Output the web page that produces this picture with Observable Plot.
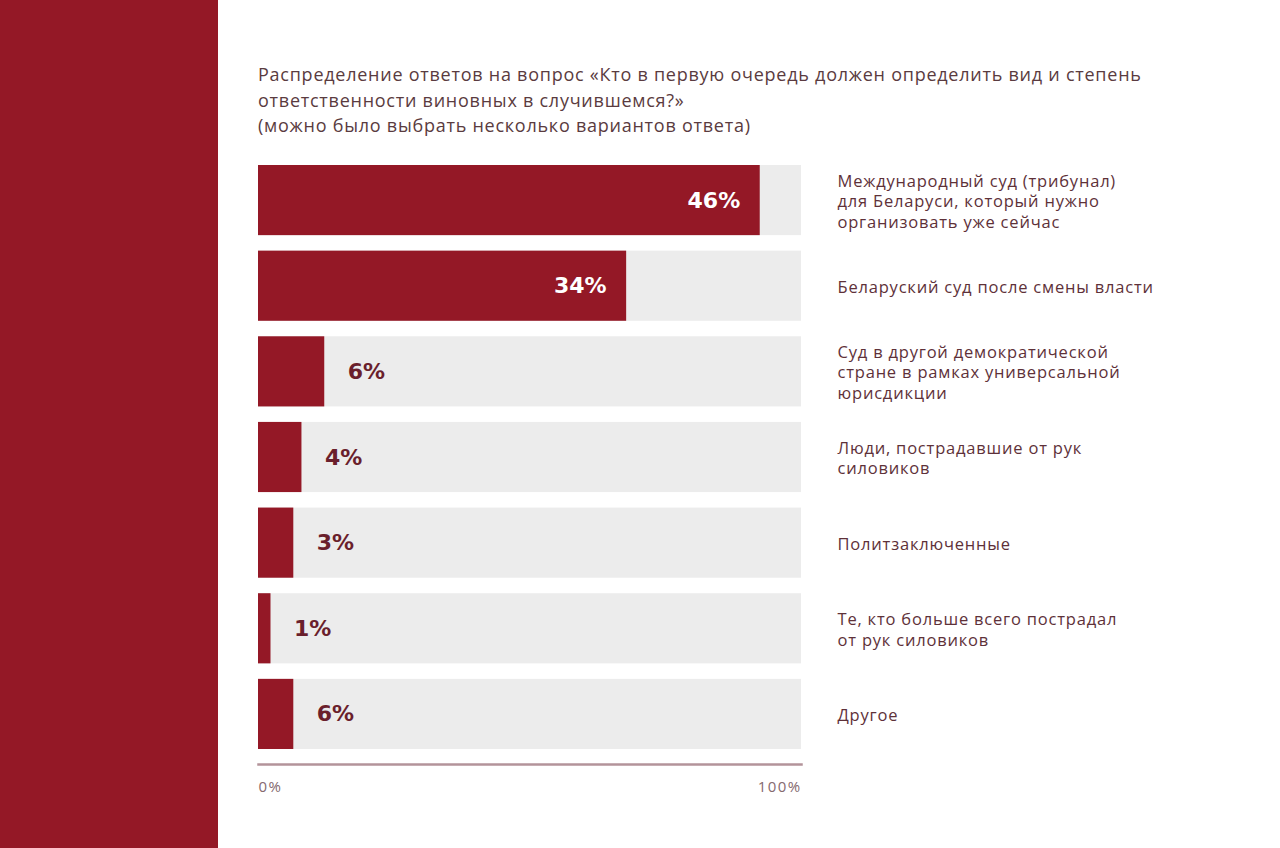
<!DOCTYPE html>
<html>
<head>
<meta charset="utf-8">
<script src="https://cdn.jsdelivr.net/npm/d3@7"></script>
<script src="https://cdn.jsdelivr.net/npm/@observablehq/plot@0.6"></script>
<style>
  html, body { margin: 0; padding: 0; background: #fff; }
  body { width: 1280px; height: 848px; position: relative; overflow: hidden; font-family: "Open Sans", sans-serif; }
  #panel { position: absolute; left: 0; top: 0; width: 218px; height: 848px; background: #941826; }
  #title { position: absolute; left: 258px; top: 62px; font-size: 18px; letter-spacing: 0.75px; line-height: 25.5px; color: #5a3b40; white-space: nowrap; }
  #chart { position: absolute; left: 218px; top: 148px; }
  #chart g[font-size="16.5"] { letter-spacing: 0.8px; }
  #chart g[font-size="15"] { letter-spacing: 1.4px; }
</style>
</head>
<body>
<div id="panel"></div>
<div id="title">Распределение ответов на вопрос «Кто в первую очередь должен определить вид и степень<br>ответственности виновных в случившемся?»<br>(можно было выбрать несколько вариантов ответа)</div>
<div id="chart"></div>
<script>
// Answer categories (top to bottom)
const categories = [
  "Международный суд (трибунал)\nдля Беларуси, который нужно\nорганизовать уже сейчас",
  "Беларуский суд после смены власти",
  "Суд в другой демократической\nстране в рамках универсальной\nюрисдикции",
  "Люди, пострадавшие от рук\nсиловиков",
  "Политзаключенные",
  "Те, кто больше всего пострадал\nот рук силовиков",
  "Другое"
];
// Printed value labels
const valueLabels = ["46%", "34%", "6%", "4%", "3%", "1%", "6%"];
// Bar lengths as drawn against the 0%–100% axis
const barShares = [92.4, 67.8, 12.2, 8.0, 6.5, 2.3, 6.5];
// Axis tick labels
const axisTicks = [0, 100];

const data = categories.map((c, i) => ({
  category: c,
  share: barShares[i],
  label: valueLabels[i],
  inside: i < 2
}));

const RED = "#941826";
const TEXT = "#5e3139";
const LABEL = "#6a1f2c";
const PCT_FONT = "DejaVu Sans, sans-serif";

const chart = Plot.plot({
  width: 1062,
  height: 660,
  marginLeft: 40,
  marginRight: 479,
  marginTop: 17,
  marginBottom: 59,
  style: { fontFamily: "Open Sans, sans-serif", background: "transparent" },
  x: { domain: [0, 100], axis: null },
  y: { domain: categories, paddingInner: 0.181, paddingOuter: 0, round: false, axis: null },
  marks: [
    Plot.barX(data, { y: "category", x1: 0, x2: 100, fill: "#ececec" }),
    Plot.barX(data, { y: "category", x1: 0, x2: "share", fill: RED }),
    Plot.text(data.filter(d => d.inside), {
      y: "category", x: "share", text: "label", textAnchor: "end", dx: -20,
      fill: "#ffffff", fontSize: 22, fontWeight: "bold", fontFamily: PCT_FONT
    }),
    Plot.text(data.filter(d => !d.inside), {
      y: "category", x: "share", text: "label", textAnchor: "start", dx: 23,
      fill: LABEL, fontSize: 22, fontWeight: "bold", fontFamily: PCT_FONT
    }),
    Plot.text(data, {
      y: "category", x: 100, text: "category", textAnchor: "start", dx: 36,
      fill: TEXT, fontSize: 16.5, lineHeight: 1.25
    }),
    Plot.frame({ anchor: "bottom", dy: 15, stroke: "#b3939a", strokeWidth: 2.5 }),
    Plot.text(axisTicks.filter(t => t === 0), {
      x: d => d, frameAnchor: "bottom", dy: 42, text: d => d + "%",
      textAnchor: "start", fill: "#856a6f", fontSize: 15
    }),
    Plot.text(axisTicks.filter(t => t === 100), {
      x: d => d, frameAnchor: "bottom", dy: 42, text: d => d + "%",
      textAnchor: "end", fill: "#856a6f", fontSize: 15
    })
  ]
});
document.getElementById("chart").appendChild(chart);
</script>
</body>
</html>
